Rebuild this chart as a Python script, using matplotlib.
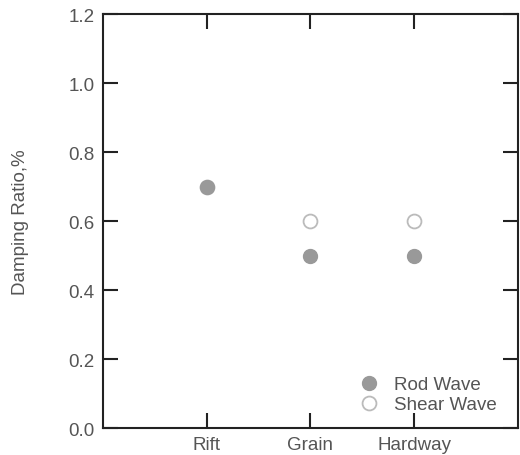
import matplotlib.pyplot as plt

plt.rcParams["font.family"] = ["Liberation Sans", "DejaVu Sans"]

categories = ["Rift", "Grain", "Hardway"]
positions = [1, 2, 3]
rod_wave = [0.7, 0.5, 0.5]
shear_wave = [0.7, 0.6, 0.6]
y_ticks = [0.0, 0.2, 0.4, 0.6, 0.8, 1.0, 1.2]

text_color = "#555555"
fs = 13.5

fig = plt.figure(figsize=(5.2, 4.56), dpi=100)
ax = fig.add_axes([0.198, 0.059, 0.798, 0.908])

ax.plot(positions, shear_wave, "o", ms=10, mfc="white", mec="#bbbbbb", mew=1.3,
        ls="none", label="Shear Wave", zorder=3)
ax.plot(positions, rod_wave, "o", ms=10, mfc="#999999", mec="#999999", mew=1,
        ls="none", label="Rod Wave", zorder=4)

ax.set_xlim(0, 4)
ax.set_ylim(0, 1.2)
ax.set_xticks(positions)
ax.set_xticklabels(categories)
ax.set_yticks(y_ticks)
ax.set_yticklabels(["%.1f" % v for v in y_ticks])
ax.set_ylabel("Damping Ratio,%", color=text_color, fontsize=fs, labelpad=28)

ax.tick_params(direction="in", length=10.5, width=1.5, top=True, right=True,
               labelsize=fs, labelcolor=text_color, color="#222222", pad=6)
for s in ax.spines.values():
    s.set_linewidth(1.5)
    s.set_color("#222222")

handles, labels = ax.get_legend_handles_labels()
ax.legend(handles[::-1], labels[::-1], loc="lower right", bbox_to_anchor=(0.99, -0.005),
          frameon=False, fontsize=fs, labelcolor=text_color, handletextpad=0.6,
          labelspacing=0.15, handlelength=1.5)

plt.savefig("out.png", dpi=100)
